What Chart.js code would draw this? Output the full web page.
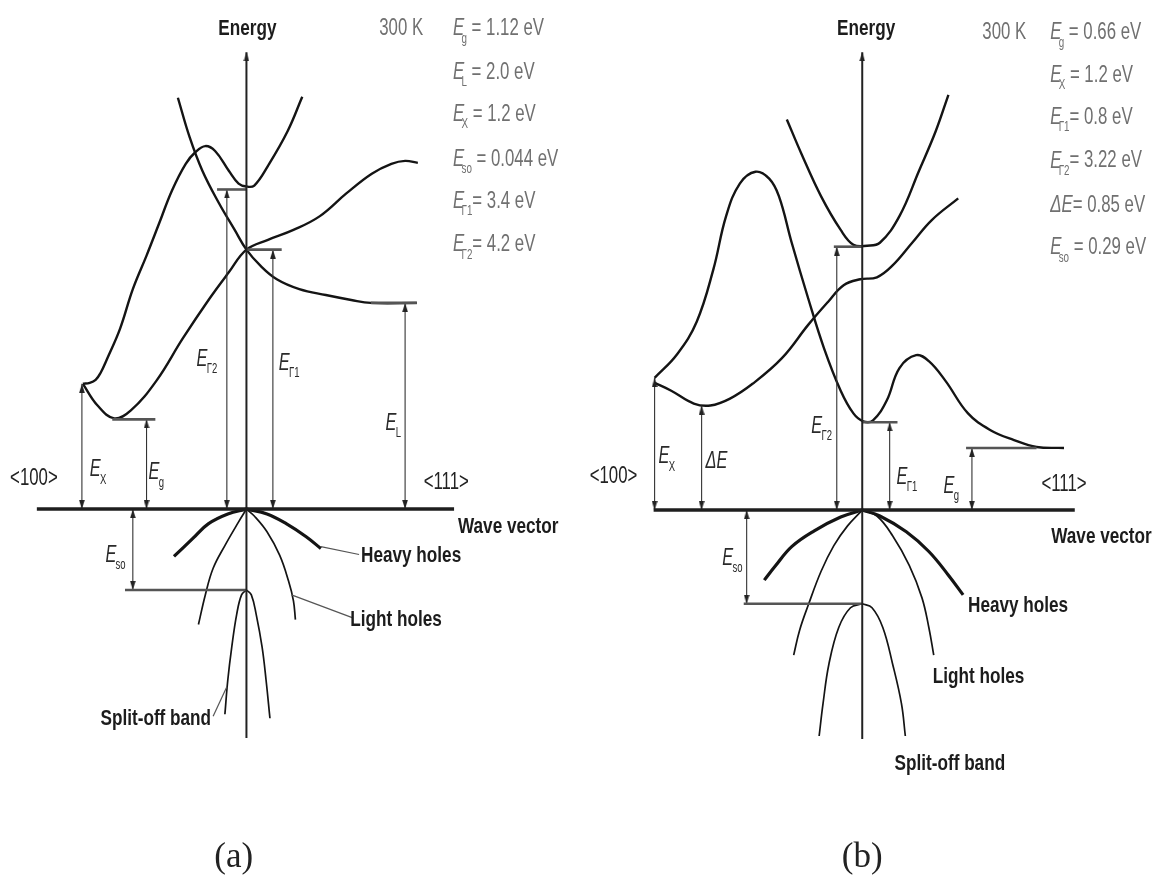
<!DOCTYPE html>
<html><head><meta charset="utf-8">
<script src="https://cdn.jsdelivr.net/npm/chart.js@4.4.1/dist/chart.umd.min.js"></script>
<style>
html,body{margin:0;padding:0;background:#fff;}
#wrap{position:relative;width:1165px;height:886px;background:#fff;}
canvas{position:absolute;top:0;}
#ca{left:0;} #cb{left:582px;}
</style></head><body>
<div id="wrap"><canvas id="ca" width="582" height="886"></canvas><canvas id="cb" width="583" height="886"></canvas></div>
<script>
// ---------- Panel (a): Si. x = wave vector (a.u., 0 at Γ), y = energy (a.u., 0 at valence-band top)
const aBandX   = [[-167,127],[-160,128],[-154,131],[-149,138],[-142,153],[-129,183],[-116,223],[-102,257],[-89,290],[-76,323],[-62,350],[-52,362],[-42,368],[-32,363],[-18,343],[-8,330],[0,327],[8,328],[22,348],[42,383],[57,418]];
const aBandLow = [[-167,127],[-152,105],[-135,92],[-118,100],[-92,130],[-65,173],[-38,213],[-18,240],[0,263],[22,273],[48,283],[75,297],[102,320],[128,340],[148,350],[162,353],[175,351]];
const aBandL   = [[-70,417],[-58,377],[-45,343],[-28,310],[-12,283],[0,263],[14,247],[31,233],[54,223],[81,217],[107,212],[127,209],[174,209]];
const aHeavyL  = [[0,0],[-19,-5],[-39,-15],[-55,-30],[-74,-48]];
const aHeavyR  = [[0,0],[21,-5],[41,-15],[61,-28],[76,-40]];
const aLightL  = [[0,0],[-8,-13],[-22,-37],[-34,-60],[-42,-87],[-49,-117]];
const aLightR  = [[0,0],[8,-7],[21,-23],[34,-47],[43,-73],[48,-93],[50,-112]];
const aSplitL  = [[0,-82],[-5,-87],[-10,-107],[-15,-140],[-19,-173],[-22,-208]];
const aSplitR  = [[0,-82],[5,-87],[10,-107],[16,-140],[20,-173],[24,-212]];
const aLevels  = [[91,-137,-93],[324,-30,0],[263,0,36],[209,127,174],[-82,-124,0]];   // [energy, k from, k to]
const aGaps    = [[-168,0,127],[-102,0,91],[-20,0,324],[27,0,263],[162,0,209],[-116,0,-82]]; // [k, E from, E to]
const aLeaders = [[[76,-38],[115,-46]],[[46,-87],[108,-110]],[[-20,-180],[-34,-210]]];
const aParams  = ['/E/_{g} = 1.12 eV','/E/_{L} = 2.0 eV','/E/_{X} = 1.2 eV','/E/_{so} = 0.044 eV','/E/_{Γ1}= 3.4 eV','/E/_{Γ2}= 4.2 eV'];

// ---------- Panel (b): Ge
const bBandHump = [[-212,134],[-189,158],[-169,191],[-152,244],[-139,298],[-125,331],[-109,343],[-95,336],[-85,318],[-72,271],[-55,214],[-39,164],[-22,121],[-9,98],[1,90],[11,91],[25,111],[38,144],[55,157],[68,151],[85,131],[108,98],[131,81],[155,71],[178,64],[206,63]];
const bBandLow  = [[-212,129],[-195,121],[-172,108],[-155,106],[-135,113],[-112,128],[-82,154],[-55,188],[-35,211],[-19,228],[-2,234],[15,236],[31,248],[51,271],[71,294],[98,316]];
const bBandTop  = [[-77,396],[-62,361],[-42,318],[-22,284],[-9,269],[5,268],[18,271],[38,298],[58,344],[75,384],[88,421]];
const bHeavyL   = [[0,0],[-22,-7],[-49,-21],[-72,-37],[-89,-57],[-100,-71]];
const bHeavyR   = [[0,0],[18,-6],[45,-22],[68,-42],[88,-66],[103,-86]];
const bLightL   = [[0,0],[-15,-16],[-29,-36],[-42,-62],[-55,-96],[-64,-122],[-70,-147]];
const bLightR   = [[0,0],[15,-6],[31,-26],[48,-56],[61,-89],[68,-119],[73,-147]];
const bSplitL   = [[0,-95],[-12,-99],[-24,-119],[-34,-156],[-40,-196],[-44,-229]];
const bSplitR   = [[0,-95],[10,-99],[21,-119],[31,-156],[40,-196],[44,-229]];
const bLevels   = [[267,-29,0],[89,0,36],[63,106,178],[-95,-121,0]];
const bGaps     = [[-212,0,134],[-164,0,106],[-26,0,267],[28,0,89],[112,0,63],[-118,0,-95]];
const bLeaders  = [];
const bParams   = ['/E/_{g} = 0.66 eV','/E/_{X} = 1.2 eV','/E/_{Γ1}= 0.8 eV','/E/_{Γ2}= 3.22 eV','/ΔE/= 0.85 eV','/E/_{so} = 0.29 eV'];

// ---------- text styles
const SANS = '"Liberation Sans", Arial, sans-serif';
const STY = {
  bold:  {size:22, weight:'bold',   color:'#1c1c1c', sx:0.78, fam:SANS, ov:1},
  param: {size:24, weight:'normal', color:'#707070', sx:0.70, fam:SANS, ov:4},
  elab:  {size:24, weight:'normal', color:'#2a2a2a', sx:0.68, fam:SANS, ov:1},
  dir:   {size:24, weight:'normal', color:'#222',    sx:0.70, fam:SANS, ov:1},
  serif: {size:35, weight:'normal', color:'#222',    sx:1.0,  fam:'"Liberation Serif", "DejaVu Serif", serif', ov:0}
};

function parseRich(s){
  const re=/\/([^\/]+)\/|_\{([^}]*)\}|([^\/_]+)/g; const out=[]; let m;
  while((m=re.exec(s))){ if(m[1]!==undefined) out.push({t:m[1],it:true}); else if(m[2]!==undefined) out.push({t:m[2],sub:true}); else out.push({t:m[3]}); }
  return out;
}
function drawRich(ctx,str,px,py,align,st){
  const segs=parseRich(str); const lay=[]; let x=0;
  ctx.save(); ctx.textBaseline='middle'; ctx.textAlign='left';
  for(const s of segs){
    let font,y=0,x0=x;
    if(s.sub){ font=`${st.weight} ${Math.round(st.size*0.6)}px ${st.fam}`; y=st.size*0.42; x0=x-st.ov; }
    else font=`${s.it?'italic ':''}${st.weight} ${st.size}px ${st.fam}`;
    ctx.font=font; const w=ctx.measureText(s.t).width;
    lay.push({t:s.t,font,x:x0,y}); x=x0+w;
  }
  const tot=x*st.sx; const off=align==='center'?-tot/2:(align==='right'?-tot:0);
  ctx.translate(px+off,py); ctx.scale(st.sx,1); ctx.fillStyle=st.color;
  for(const l of lay){ ctx.font=l.font; ctx.fillText(l.t,l.x,l.y); }
  ctx.restore();
}

// arrow head image (tip at centre, body below)
const arrowImg=document.createElement('canvas'); arrowImg.width=6; arrowImg.height=18;
(function(){const c=arrowImg.getContext('2d'); c.fillStyle='#222'; c.beginPath(); c.moveTo(3,9); c.lineTo(0.2,18); c.lineTo(5.8,18); c.closePath(); c.fill();})();

function pts(a){ return a.map(p=>({x:p[0],y:p[1]})); }
function line(a,w,c,t){ return {data:pts(a),showLine:true,borderColor:c,borderWidth:w,pointRadius:0,tension:t,fill:false}; }

function makePanel(id,P){
  const ds=[];
  ds.push(line([[P.wave[0],0],[P.wave[1],0]],3.5,'#1e1e1e',0));
  ds.push({data:[{x:0,y:P.axis[0]},{x:0,y:P.axis[1]}],showLine:true,borderColor:'#222',borderWidth:2,
           pointStyle:arrowImg,pointRadius:[0,3],pointRotation:[0,0],tension:0});
  P.levels.forEach(l=>ds.push(line([[l[1],l[0]],[l[2],l[0]]],2.6,'#555',0)));
  P.gaps.forEach(g=>ds.push({data:[{x:g[0],y:g[1]},{x:g[0],y:g[2]}],showLine:true,borderColor:'#333',borderWidth:1.1,
     pointStyle:arrowImg,pointRadius:3,pointRotation:[g[1]>g[2]?0:180,g[2]>g[1]?0:180],tension:0}));
  P.leaders.forEach(l=>ds.push(line(l,1.2,'#555',0)));
  P.bands.forEach(b=>ds.push(line(b,2.4,'#141414',0.4)));
  P.heavy.forEach(b=>ds.push(line(b,3.2,'#141414',0.4)));
  P.thin.forEach(b=>ds.push(line(b,1.7,'#141414',0.4)));
  new Chart(document.getElementById(id),{
    type:'scatter',
    data:{datasets:ds},
    options:{responsive:false,animation:false,events:[],
      layout:{padding:0},
      scales:{x:{type:'linear',min:P.xr[0],max:P.xr[1],display:false},y:{type:'linear',min:P.yr[0],max:P.yr[1],display:false}},
      plugins:{legend:{display:false},tooltip:{enabled:false}}},
    plugins:[{id:'txt',afterDraw(ch){
      const c=ch.ctx, X=ch.scales.x, Y=ch.scales.y;
      P.labels.forEach(l=>drawRich(c,l.s,X.getPixelForValue(l.x),Y.getPixelForValue(l.y),l.al||'left',STY[l.st]));
      P.params.forEach((s,i)=>drawRich(c,s,X.getPixelForValue(P.px),Y.getPixelForValue(P.py[i]),'left',STY.param));
    }}]
  });
}

makePanel('ca',{
  xr:[-245.5,336.5], yr:[-376,510], wave:[-214,212], axis:[-232,463],
  bands:[aBandX,aBandLow,aBandL], heavy:[aHeavyL,aHeavyR], thin:[aLightL,aLightR,aSplitL,aSplitR],
  levels:aLevels, gaps:aGaps, leaders:aLeaders, params:aParams, px:211, py:[487,443,400,355,312,268],
  labels:[
    {s:'Energy',x:1,y:487,st:'bold',al:'center'},
    {s:'300 K',x:158,y:487,st:'param',al:'center'},
    {s:'<100>',x:-217,y:31,st:'dir',al:'center'},
    {s:'/E/_{X}',x:-160,y:40,st:'elab'},
    {s:'/E/_{g}',x:-100,y:37,st:'elab'},
    {s:'/E/_{Γ2}',x:-51,y:152,st:'elab'},
    {s:'/E/_{Γ1}',x:33,y:148,st:'elab'},
    {s:'/E/_{L}',x:142,y:87,st:'elab'},
    {s:'/E/_{so}',x:-144,y:-47,st:'elab'},
    {s:'<111>',x:204,y:27,st:'dir',al:'center'},
    {s:'Wave vector',x:216,y:-18,st:'bold'},
    {s:'Heavy holes',x:117,y:-47,st:'bold'},
    {s:'Light holes',x:106,y:-112,st:'bold'},
    {s:'Split-off band',x:-149,y:-213,st:'bold'},
    {s:'(a)',x:-13,y:-354,st:'serif',al:'center'}
  ]
});
makePanel('cb',{
  xr:[-280,303], yr:[-375,511], wave:[-213,217], axis:[-232,464],
  bands:[bBandHump,bBandLow,bBandTop], heavy:[bHeavyL,bHeavyR], thin:[bLightL,bLightR,bSplitL,bSplitR],
  levels:bLevels, gaps:bGaps, leaders:bLeaders, params:bParams, px:192, py:[484,441,398,354,309,266],
  labels:[
    {s:'Energy',x:4,y:488,st:'bold',al:'center'},
    {s:'300 K',x:145,y:484,st:'param',al:'center'},
    {s:'<100>',x:-254,y:34,st:'dir',al:'center'},
    {s:'/E/_{X}',x:-208,y:54,st:'elab'},
    {s:'/ΔE/',x:-160,y:49,st:'elab'},
    {s:'/E/_{Γ2}',x:-52,y:85,st:'elab'},
    {s:'/E/_{Γ1}',x:35,y:33,st:'elab'},
    {s:'/E/_{g}',x:83,y:24,st:'elab'},
    {s:'<111>',x:206,y:26,st:'dir',al:'center'},
    {s:'Wave vector',x:193,y:-27,st:'bold'},
    {s:'/E/_{so}',x:-143,y:-49,st:'elab'},
    {s:'Heavy holes',x:108,y:-97,st:'bold'},
    {s:'Light holes',x:72,y:-169,st:'bold'},
    {s:'Split-off band',x:33,y:-257,st:'bold'},
    {s:'(b)',x:0,y:-353,st:'serif',al:'center'}
  ]
});
</script>
</body></html>
